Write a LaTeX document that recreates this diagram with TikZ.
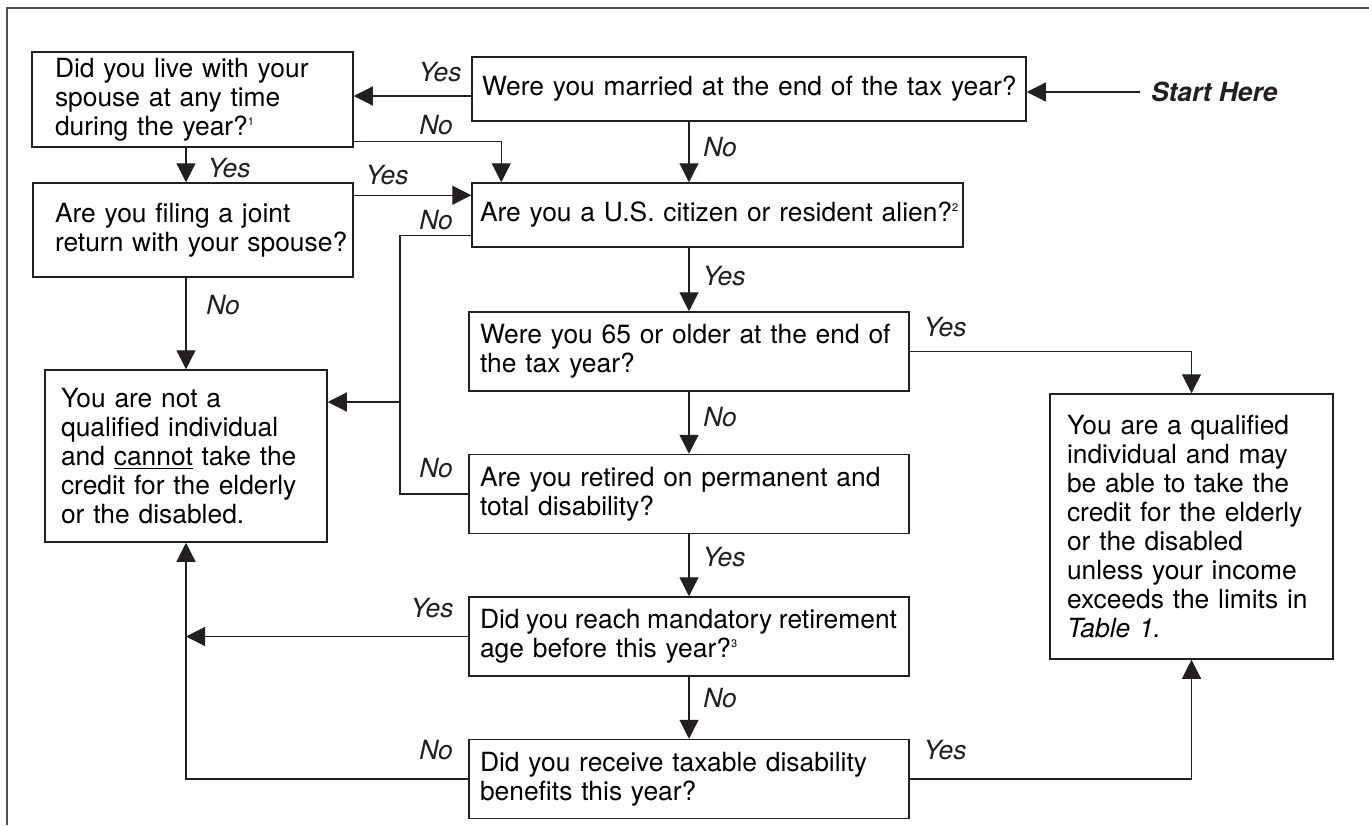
\documentclass[tikz,border=0pt]{standalone}
\usepackage{fontspec}
\setmainfont{TeX Gyre Heros}
\usepackage{tikz}
\usetikzlibrary{arrows.meta}
\usetikzlibrary{positioning}

\definecolor{ink}{HTML}{231F20}
\definecolor{rulegray}{HTML}{505050}

\newcommand{\boxfont}{\fontsize{13.2}{14.5}\selectfont}
\newcommand{\fnmk}[1]{\raisebox{5pt}{\fontsize{5.5}{5.5}\selectfont #1}}

\begin{document}
\begin{tikzpicture}[x=0.5pt,y=-0.5pt]
        \tikzstyle{qbox}=[draw=ink, line width=0.75pt, inner ysep=0pt, align=left, font=\boxfont]
        \tikzstyle{spine}=[qbox, inner xsep=5.5pt, text width=209pt, minimum height=39.5pt]
        \tikzstyle{lbl}=[inner sep=0pt, font=\boxfont\itshape, text=ink]
        \tikzstyle{flow}=[draw=ink, line width=0.6pt, -{Triangle[length=9.5pt,width=9.5pt]}]
        \tikzstyle{wire}=[draw=ink, line width=0.6pt]
        \tikzstyle{frame}=[draw=rulegray, line width=0.8pt]

        \useasboundingbox (0,0) rectangle (1369,825);
        \draw[frame] (7,825) -- (7,8) -- (1369,8);

        % left column
        \node (live) at (192.5,99.5) [qbox, inner xsep=11.5pt, text width=137.5pt, minimum height=47.5pt]
            {Did you live with your\\spouse at any time\\during the year?\fnmk{1}};
        \node (joint) at (193,230) [qbox, inner xsep=11pt, text width=138pt, minimum height=47pt]
            {Are you filing a joint\\\mbox{return with your spouse?}};
        \node (notq) at (186,456) [qbox, inner xsep=8pt, text width=125pt, minimum height=86pt]
            {You are not a\\qualified individual\\and \underline{cannot} take the\\credit for the elderly\\or the disabled.};

        % middle column
        \node (married) at (749,89) [qbox, inner xsep=5pt, text width=267pt, minimum height=32pt]
            {\mbox{Were you married at the end of the tax year?}};
        \node (start) [right=56.5pt of married, yshift=-1.5pt, inner xsep=5.5pt, inner ysep=0pt, font=\boxfont\bfseries\itshape, text=ink]{Start Here};
        \node (citizen) at (717.5,215) [qbox, inner xsep=4pt, text width=237.5pt, minimum height=32pt]
            {\mbox{Are you a U.S. citizen or resident alien?\fnmk{2}}};
        \node (q65) at (689,351.5) [spine]
            {\makebox[208.5pt][s]{Were you 65 or older at the end of}\\the tax year?};
        \node (retired) [spine, below=31pt of q65]
            {\makebox[208.5pt][s]{Are you retired on permanent and}\\total disability?};
        \node (mand) [spine, below=31pt of retired]
            {\makebox[208.5pt][s]{\spaceskip=0.278em plus 0.3em minus 0.16em Did you reach mandatory retirement}\\age before this year?\fnmk{3}};
        \node (recv) [spine, below=31pt of mand]
            {\makebox[208.5pt][s]{Did you receive taxable disability}\\benefits this year?};

        % right column
        \node (qual) at (1191.5,526.5) [qbox, inner xsep=8.5pt, text width=124.5pt, minimum height=132.5pt]
            {You are a qualified\\individual and may\\be able to take the\\credit for the elderly\\or the disabled\\unless your income\\exceeds the limits in\\\textit{Table 1.}};

        \coordinate (nobus) at (400,402);

        \draw[flow] (start.west) -- (start.west -| married.east);
        \draw[flow] ([yshift=-3.5pt]married.west) -- ([yshift=-3.5pt]married.west -| live.east);
        \draw[flow] ([yshift=3pt]live.south east) -| ([xshift=15pt]citizen.north west);
        \draw[flow] (married.south -| q65.north) -- (citizen.north -| q65.north);
        \draw[flow] (live.south -| notq.north) -- (joint.north -| notq.north);
        \draw[flow] ([yshift=-6.5pt]joint.north east) -- ([yshift=-6.5pt]joint.north east -| citizen.west);
        \draw[flow] (joint.south -| notq.north) -- (notq.north);
        \draw[wire] ([yshift=6pt]citizen.south west) -| (nobus);
        \draw[wire] (retired.west) -| (nobus);
        \draw[flow] (nobus) -- (nobus -| notq.east);
        \draw[flow] (citizen.south -| q65.north) -- (q65.north);
        \draw[flow] (q65.east) -| (qual.north);
        \draw[flow] (q65) -- (retired);
        \draw[flow] (retired) -- (mand);
        \draw[flow] (mand) -- (recv);
        \draw[flow] (mand.west) -- (mand.west -| notq.south);
        \draw[flow] (recv.west) -| (notq.south);
        \draw[flow] (recv.east) -| (qual.south);

        \node (lyes1) [lbl] at (440,72) {Yes};
        \node (lno1) [lbl] at (436,125) {No};
        \node (lyes2) [lbl] at (229,168) {Yes};
        \node (lyes3) [lbl] at (387,175) {Yes};
        \node (lno2) [lbl] at (436,220) {No};
        \node (lno3) [lbl] at (720,147) {No};
        \node (lno5) [lbl] at (223,305) {No};
        \node (lyes4) [lbl] at (724,276) {Yes};
        \node (lyes5) [lbl] at (945,327) {Yes};
        \node (lno4) [lbl] at (720,417) {No};
        \node (lno6) [lbl] at (436,468) {No};
        \node (lyes6) [lbl] at (724,557) {Yes};
        \node (lyes7) [lbl] at (432,608) {Yes};
        \node (lno7) [lbl] at (720,698) {No};
        \node (lno8) [lbl] at (436,750) {No};
        \node (lyes8) [lbl] at (945,750) {Yes};
\end{tikzpicture}
\end{document}
